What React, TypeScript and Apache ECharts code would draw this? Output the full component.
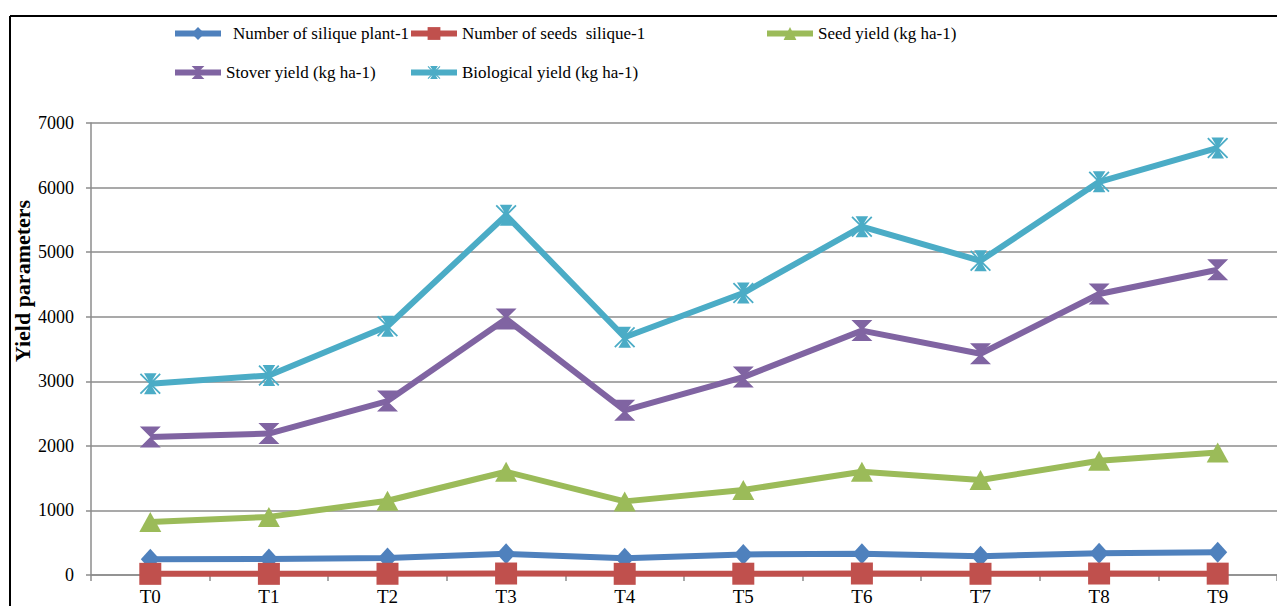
import React, { useEffect, useRef } from "react";
import * as echarts from "echarts";

const categories = ["T0", "T1", "T2", "T3", "T4", "T5", "T6", "T7", "T8", "T9"];
const siliquePerPlant = [245, 248, 262, 328, 258, 318, 328, 290, 338, 352];
const seedsPerSilique = [18, 18, 19, 23, 18, 20, 23, 19, 23, 21];
const seedYield = [820, 900, 1150, 1599, 1140, 1316, 1599, 1471, 1769, 1898];
const stoverYield = [2139, 2191, 2694, 3966, 2551, 3065, 3785, 3426, 4352, 4727];
const biologicalYield = [2963, 3091, 3852, 5571, 3682, 4367, 5395, 4866, 6090, 6614];
const yTicks = { min: 0, max: 7000, interval: 1000 };

const names = [
  "Number of silique plant-1",
  "Number of seeds  silique-1",
  "Seed yield (kg ha-1)",
  "Stover yield (kg ha-1)",
  "Biological yield (kg ha-1)",
];

const FONT = "Liberation Serif";
const HOURGLASS = "path://M0,0 L20,0 L10,10 L20,20 L0,20 L10,10 Z";
const STAR =
  "path://M4,0 L16,0 L10,10 L16,20 L4,20 L10,10 Z M0,1.2 L1.2,0 L20,18.8 L18.8,20 Z M18.8,0 L20,1.2 L1.2,20 L0,18.8 Z";

export default function App() {
  const ref = useRef<HTMLDivElement>(null);
  useEffect(() => {
    const chart = echarts.init(ref.current!, null, { renderer: "svg" });
    const mk = (
      name: string,
      data: number[],
      color: string,
      symbol: string,
      size: number | number[]
    ) => ({
      name,
      type: "line",
      data,
      symbol,
      symbolSize: size,
      showAllSymbol: true,
      lineStyle: { color, width: 6 },
      itemStyle: { color },
      emphasis: { disabled: true },
    });
    const legendBase = (name: string, left: number, top: number, pad = 0) => ({
      data: [name],
      left,
      top,
      padding: 0,
      itemWidth: 46,
      itemHeight: 16,
      lineStyle: { width: 6 },
      selectedMode: false,
      formatter: (n: string) => n,
      textStyle: {
        fontFamily: FONT,
        fontSize: 17,
        color: "#000",
        padding: [0, 0, 0, pad],
      },
    });
    chart.setOption({
      animation: false,
      backgroundColor: "#fff",
      textStyle: { fontFamily: FONT },
      grid: { left: 91, top: 123, height: 452, width: 1190 },
      legend: [
        legendBase(names[0], 172, 25, 7),
        legendBase(names[1], 408, 25),
        legendBase(names[2], 764, 25),
        legendBase(names[3], 172, 64),
        legendBase(names[4], 408, 64),
      ],
      xAxis: {
        type: "category",
        data: categories,
        boundaryGap: true,
        axisLine: { lineStyle: { color: "#8c8c8c", width: 1.5 } },
        axisTick: { show: true, length: 6, lineStyle: { color: "#8c8c8c", width: 1.5 } },
        axisLabel: { fontFamily: FONT, fontSize: 19, color: "#000", margin: 12 },
      },
      yAxis: {
        type: "value",
        min: yTicks.min,
        max: yTicks.max,
        interval: yTicks.interval,
        axisLine: { show: true, lineStyle: { color: "#8c8c8c", width: 1.5 } },
        axisTick: { show: true, length: 5, lineStyle: { color: "#8c8c8c", width: 1.5 } },
        axisLabel: {
          fontFamily: FONT,
          fontSize: 18,
          color: "#000",
          margin: 17,
          formatter: (v: number) => String(v),
        },
        splitLine: { lineStyle: { color: "#8c8c8c", width: 1.5 } },
      },
      graphic: [
        {
          type: "line",
          shape: { x1: 10, y1: 16, x2: 1277, y2: 16 },
          style: { stroke: "#000", lineWidth: 2 },
        },
        {
          type: "line",
          shape: { x1: 10, y1: 16, x2: 10, y2: 606 },
          style: { stroke: "#000", lineWidth: 2 },
        },
        {
          type: "text",
          x: 22,
          y: 281,
          rotation: Math.PI / 2,
          style: {
            text: "Yield parameters",
            fontFamily: FONT,
            fontSize: 22,
            fontWeight: "bold",
            fill: "#000",
            align: "center",
            verticalAlign: "middle",
          },
        },
      ],
      series: [
        mk(names[0], siliquePerPlant, "#4F81BD", "diamond", [19, 21]),
        mk(names[1], seedsPerSilique, "#C0504D", "rect", 22),
        mk(names[2], seedYield, "#9BBB59", "triangle", [22, 20]),
        mk(names[3], stoverYield, "#8064A2", HOURGLASS, 21),
        mk(names[4], biologicalYield, "#4BACC6", STAR, 21),
      ],
    });
    return () => chart.dispose();
  }, []);
  return (
    <div
      ref={ref}
      style={{ position: "fixed", left: 0, top: 0, width: 1277, height: 606, background: "#fff" }}
    />
  );
}
